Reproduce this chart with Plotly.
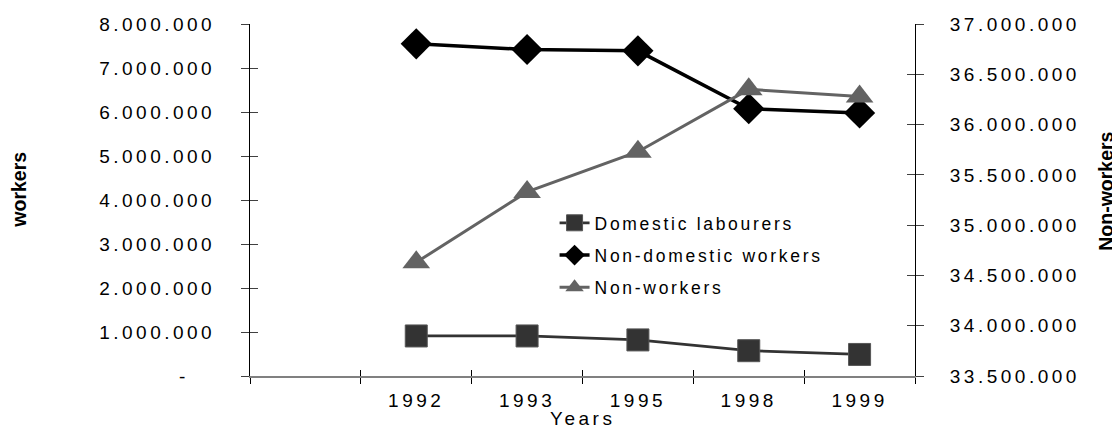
import plotly.graph_objects as go

# ---- data ----
categories = [" ", "1992", "1993", "1995", "1998", "1999"]
years = ["1992", "1993", "1995", "1998", "1999"]
domestic_labourers = [910000, 910000, 820000, 575000, 490000]
non_domestic_workers = [7550000, 7420000, 7390000, 6075000, 5980000]
non_workers = [34630000, 35330000, 35730000, 36350000, 36280000]

left_tickvals = [0, 1000000, 2000000, 3000000, 4000000, 5000000, 6000000, 7000000, 8000000]
left_ticktext = ["-\u00a0\u00a0\u00a0", "1.000.000", "2.000.000", "3.000.000", "4.000.000",
                 "5.000.000", "6.000.000", "7.000.000", "8.000.000"]
right_tickvals = [33500000, 34000000, 34500000, 35000000, 35500000, 36000000, 36500000, 37000000]
right_ticktext = ["33.500.000", "34.000.000", "34.500.000", "35.000.000", "35.500.000",
                  "36.000.000", "36.500.000", "37.000.000"]

FONT = "Liberation Sans, Arial, sans-serif"


def spaced(t, px=3.5):
    return f'<span style="letter-spacing:{px}px">{t}</span>'


boundaries = [i - 0.5 for i in range(len(categories) + 1)]

fig = go.Figure()

fig.add_trace(go.Scatter(
    x=years, y=domestic_labourers, name=spaced("Domestic labourers", 2.7),
    mode="lines+markers", legendgroup="a",
    line=dict(color="#333333", width=2.7),
    marker=dict(symbol="square", size=22, color="#333333", line=dict(color="#555555", width=1)),
    xaxis="x", yaxis="y"))
fig.add_trace(go.Scatter(
    x=years, y=non_domestic_workers, name=spaced("Non-domestic workers", 2.7),
    mode="lines+markers", legendgroup="b",
    line=dict(color="#000000", width=3.5),
    marker=dict(symbol="diamond", size=24, color="#000000"),
    xaxis="x", yaxis="y"))
fig.add_trace(go.Scatter(
    x=years, y=non_workers, name=spaced("Non-workers", 2.7),
    mode="lines+markers", legendgroup="c",
    line=dict(color="#636363", width=3),
    marker=dict(symbol="triangle-up", size=24, color="#636363"),
    xaxis="x", yaxis="y2"))

# empty helper traces so overlay axes (inner halves of crossing ticks) are drawn
fig.add_trace(go.Scatter(x=[], y=[], xaxis="x2", yaxis="y3", showlegend=False, hoverinfo="skip"))
fig.add_trace(go.Scatter(x=[], y=[], xaxis="x2", yaxis="y4", showlegend=False, hoverinfo="skip"))

tickfont = dict(family=FONT, size=19, color="#000000")

fig.update_layout(
    width=1112, height=422,
    margin=dict(l=242, r=205, t=16, b=54, autoexpand=False),
    paper_bgcolor="white", plot_bgcolor="white",
    font=dict(family=FONT, color="#000000"),
    xaxis=dict(
        type="category", categoryorder="array", categoryarray=categories,
        range=[-0.5, len(categories) - 0.5], automargin=False,
        tickvals=categories, ticktext=[spaced(c) for c in categories],
        tickson="boundaries", ticks="outside", ticklen=6, tickcolor="#000000", tickwidth=1,
        showline=True, linecolor="#808080", linewidth=2,
        showgrid=False, zeroline=False, tickfont=tickfont, ticklabelstandoff=6,
    ),
    xaxis2=dict(
        overlaying="x", anchor="y", range=[-0.5, len(categories) - 0.5], automargin=False,
        tickvals=boundaries, ticks="inside", ticklen=6, tickcolor="#000000",
        showticklabels=False, showgrid=False, zeroline=False, showline=False,
    ),
    yaxis=dict(
        range=[0, 8000000], tickvals=left_tickvals, ticktext=[spaced(t) for t in left_ticktext],
        ticks="outside", ticklen=8, tickcolor="#404040", automargin=False,
        showline=True, linecolor="#000000", linewidth=1,
        showgrid=False, zeroline=False, tickfont=tickfont, ticklabelstandoff=22,
    ),
    yaxis3=dict(
        overlaying="y", anchor="x", range=[0, 8000000], tickvals=left_tickvals,
        ticks="inside", ticklen=8, tickcolor="#404040", automargin=False,
        showticklabels=False, showgrid=False, zeroline=False, showline=False,
    ),
    yaxis2=dict(
        overlaying="y", side="right", anchor="x", automargin=False,
        range=[33500000, 37000000], tickvals=right_tickvals,
        ticktext=[spaced(t) for t in right_ticktext],
        ticks="outside", ticklen=8, tickcolor="#404040",
        showline=True, linecolor="#000000", linewidth=1,
        showgrid=False, zeroline=False, tickfont=tickfont, ticklabelstandoff=22,
    ),
    yaxis4=dict(
        overlaying="y", side="right", anchor="x", automargin=False,
        range=[33500000, 37000000], tickvals=right_tickvals,
        ticks="inside", ticklen=8, tickcolor="#404040",
        showticklabels=False, showgrid=False, zeroline=False, showline=False,
    ),
    legend=dict(
        x=0.458, y=0.486, xanchor="left", yanchor="top",
        bgcolor="rgba(0,0,0,0)", traceorder="grouped", tracegroupgap=6.5,
        font=dict(family=FONT, size=17.5, color="#000000"),
    ),
    showlegend=True,
    annotations=[
        dict(text="<b>workers</b>", xref="paper", yref="paper", x=-0.347, y=0.53,
             xanchor="center", yanchor="middle",
             textangle=-90, showarrow=False, font=dict(family=FONT, size=19.5, color="#000000")),
        dict(text="<b>Non-workers</b>", xref="paper", yref="paper", x=1.288, y=0.525,
             xanchor="center", yanchor="middle",
             textangle=-90, showarrow=False, font=dict(family=FONT, size=19.5, color="#000000")),
        dict(text=spaced("Years"), xref="paper", yref="paper", x=0.5, y=-0.122,
             xanchor="center", yanchor="middle",
             showarrow=False, font=dict(family=FONT, size=19, color="#000000")),
    ],
)

fig.write_html("out.html")
